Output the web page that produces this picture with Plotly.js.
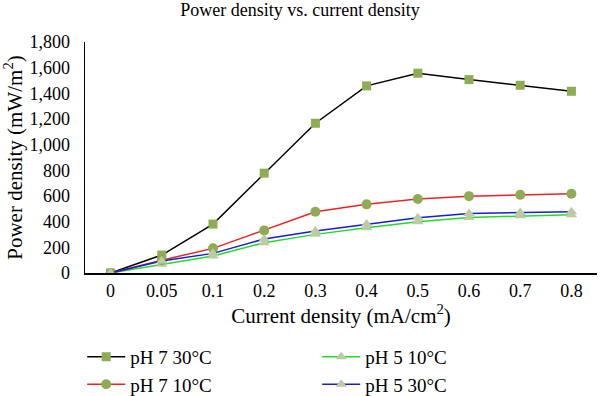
<!DOCTYPE html>
<html><head><meta charset="utf-8">
<script src="https://cdn.plot.ly/plotly-3.0.1.min.js"></script>
<style>html,body{margin:0;padding:0;background:#fff}#c{width:600px;height:396px}</style>
</head><body><div id="c"></div>
<script>
const categories = ['0','0.05','0.1','0.2','0.3','0.4','0.5','0.6','0.7','0.8'];
const ph7_30 = [0, 140, 381, 778, 1167, 1458, 1557, 1507, 1463, 1416];
const ph7_10 = [0, 100, 192, 332, 477, 535, 576, 599, 609, 617];
const ph5_10 = [0, 68, 132, 236, 301, 353, 399, 433, 446, 454];
const ph5_30 = [0, 93, 153, 265, 327, 381, 430, 464, 472, 477];
const names = ['pH 7 30°C', 'pH 5 10°C', 'pH 7 10°C', 'pH 5 30°C'];

const font = '"Liberation Serif", "Times New Roman", serif';
const traces = [
  {x: categories, y: ph7_30, name: names[0], mode: 'lines+markers',
   line: {color: '#000000', width: 1.5}, marker: {symbol: 'square', size: 9, color: '#8fac55'}},
  {x: categories, y: ph5_10, name: names[1], mode: 'lines+markers',
   line: {color: '#22dd22', width: 1.5}, marker: {symbol: 'triangle-up', size: 10, color: '#bccca0'}},
  {x: categories, y: ph7_10, name: names[2], mode: 'lines+markers',
   line: {color: '#ee2222', width: 1.5}, marker: {symbol: 'circle', size: 10, color: '#8fac55'}},
  {x: categories, y: ph5_30, name: names[3], mode: 'lines+markers',
   line: {color: '#1a1ad8', width: 1.5}, marker: {symbol: 'triangle-up', size: 10, color: '#bccca0'}}
];
const layout = {
  width: 600, height: 396,
  margin: {l: 85, r: 3, t: 42, b: 123},
  paper_bgcolor: '#fff', plot_bgcolor: '#fff',
  font: {family: font, color: '#000', size: 18},
  title: {text: 'Power density vs. current density', font: {size: 18, family: font, color: '#000'},
          x: 0.5, xanchor: 'center', y: 0.975, yanchor: 'middle'},
  xaxis: {type: 'category', range: [-0.5, 9.5], showline: true, linecolor: '#000', linewidth: 1.5,
          showgrid: false, zeroline: false, ticks: '', ticklabelstandoff: 1,
          tickfont: {size: 18, family: font, color: '#000'},
          title: {text: 'Current density (mA/cm<sup>2</sup>)', font: {size: 21, family: font, color: '#000'}, standoff: 5}},
  yaxis: {range: [0, 1800], dtick: 200, tickformat: ',d', showline: true, linecolor: '#000', linewidth: 1.5,
          showgrid: false, zeroline: false, ticks: '', ticklabelstandoff: 10,
          tickfont: {size: 18, family: font, color: '#000'},
          title: {text: 'Power density (mW/m<sup>2</sup>)', font: {size: 21, family: font, color: '#000'}, standoff: 3}},
  showlegend: true,
  legend: {orientation: 'h', xref: 'container', x: 0.137, xanchor: 'left',
           yref: 'container', y: 0.147, yanchor: 'top',
           entrywidth: 182, entrywidthmode: 'pixels', font: {size: 19, family: font, color: '#000'},
           itemwidth: 38},
};
Plotly.newPlot('c', traces, layout, {displayModeBar: false, staticPlot: true});
</script></body></html>
